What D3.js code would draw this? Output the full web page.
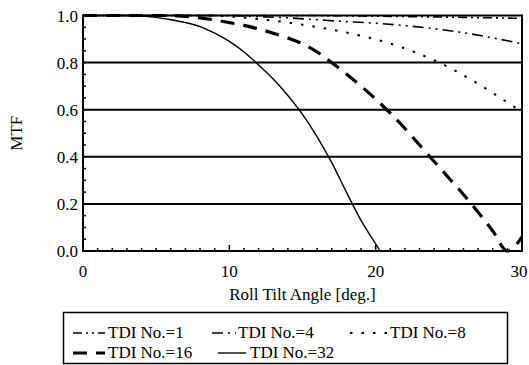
<!DOCTYPE html>
<html>
<head>
<meta charset="utf-8">
<script src="https://cdn.jsdelivr.net/npm/d3@7"></script>
<style>
  body { margin: 0; background: #fff; }
</style>
</head>
<body>
<svg width="529" height="365"></svg>
<script>
// roll tilt angle [deg.] and MTF for each TDI stage count
const angles1  = [0, 15, 20, 25, 30];
const mtf1     = [1, 1, 0.997, 0.993, 0.988];
const angles4  = [0, 10, 12, 14, 16, 18, 20, 22, 24, 26, 28, 30];
const mtf4     = [1, 1, 0.995, 0.99, 0.982, 0.974, 0.967, 0.957, 0.944, 0.927, 0.905, 0.88];
const angles8  = [0, 9, 10, 11, 12, 13, 14, 15, 16, 17, 18, 19, 20, 21, 22, 23, 24, 25, 26, 27, 28, 29, 30];
const mtf8     = [1, 1, 0.996, 0.991, 0.985, 0.978, 0.97, 0.961, 0.951, 0.94, 0.928, 0.914, 0.899, 0.881, 0.86, 0.836, 0.81, 0.78, 0.746, 0.71, 0.671, 0.631, 0.59];
const angles16 = [0, 6, 7, 8, 9, 10, 11, 12, 13, 14, 15, 16, 17, 18, 19, 20, 21, 22, 23, 24, 25, 26, 27, 28, 29, 30];
const mtf16    = [1, 1, 0.996, 0.99, 0.981, 0.97, 0.958, 0.943, 0.925, 0.905, 0.88, 0.845, 0.8, 0.752, 0.7, 0.645, 0.585, 0.52, 0.45, 0.38, 0.31, 0.24, 0.165, 0.085, 0.0, 0.06];
const angles32 = [0, 3, 4, 5, 6, 7, 8, 9, 10, 11, 12, 13, 14, 15, 16, 17, 18, 19, 20, 20.3];
const mtf32    = [1, 1, 0.998, 0.992, 0.982, 0.97, 0.953, 0.925, 0.89, 0.845, 0.79, 0.73, 0.66, 0.58, 0.485, 0.375, 0.25, 0.13, 0.03, 0];

const xTicks = [0, 10, 20, 30];
const yTicks = [0, 0.2, 0.4, 0.6, 0.8, 1.0];
const legendLabels = ["TDI No.=1", "TDI No.=4", "TDI No.=8", "TDI No.=16", "TDI No.=32"];

const series = [
  { name: legendLabels[0], xs: angles1,  ys: mtf1,  width: 1.6, dash: "9,4,2,4,2,4" },
  { name: legendLabels[1], xs: angles4,  ys: mtf4,  width: 1.6, dash: "11,5,2,5,2,5" },
  { name: legendLabels[2], xs: angles8,  ys: mtf8,  width: 2,   dash: "2.5,9" },
  { name: legendLabels[3], xs: angles16, ys: mtf16, width: 3.2, dash: "14,9" },
  { name: legendLabels[4], xs: angles32, ys: mtf32, width: 1.4, dash: null }
];

const FONT = "'Liberation Serif', 'Times New Roman', 'DejaVu Serif', serif";

const margin = { top: 15.5, left: 83, right: 7, bottom: 114 };
const width = 529 - margin.left - margin.right,
      height = 365 - margin.top - margin.bottom;

const svg = d3.select("svg");
const g = svg.append("g").attr("transform", `translate(${margin.left},${margin.top})`);

const x = d3.scaleLinear().domain([0, 30]).range([0, width]);
const y = d3.scaleLinear().domain([0, 1]).range([height, 0]);

// grid lines
g.selectAll(".grid").data([0.2, 0.4, 0.6, 0.8]).enter().append("line")
  .attr("x1", 0).attr("x2", width)
  .attr("y1", d => y(d)).attr("y2", d => y(d))
  .attr("stroke", "#000").attr("stroke-width", 2);

// minor ticks
g.selectAll(".xminor").data(d3.range(1, 30)).enter().append("line")
  .attr("x1", d => x(d)).attr("x2", d => x(d))
  .attr("y1", height).attr("y2", d => height - (d % 10 === 0 ? 6 : 3))
  .attr("stroke", "#000").attr("stroke-width", 1.5);
g.selectAll(".yminor").data(d3.range(1, 20).map(i => i * 0.05)).enter().append("line")
  .attr("x1", 0).attr("x2", 3)
  .attr("y1", d => y(d)).attr("y2", d => y(d))
  .attr("stroke", "#000").attr("stroke-width", 1.5);

// curves
const line = d3.line().x(d => x(d[0])).y(d => y(d[1])).curve(d3.curveMonotoneX);
series.forEach(s => {
  g.append("path")
    .datum(s.xs.map((v, i) => [v, s.ys[i]]))
    .attr("fill", "none")
    .attr("stroke", "#000")
    .attr("stroke-width", s.width)
    .attr("stroke-dasharray", s.dash)
    .attr("d", line);
});

// frame
g.append("rect").attr("width", width).attr("height", height)
  .attr("fill", "none").attr("stroke", "#000").attr("stroke-width", 2);

// tick labels (last one nudged so it stays inside the window)
g.selectAll(".xl").data(xTicks).enter().append("text")
  .attr("x", d => x(d)).attr("y", height + 26)
  .attr("dx", (d, i) => i === xTicks.length - 1 ? -3 : 0)
  .attr("text-anchor", "middle").attr("font-size", 17).attr("font-family", FONT)
  .text(d => d);
g.selectAll(".yl").data(yTicks).enter().append("text")
  .attr("x", -5).attr("y", d => y(d) + 6)
  .attr("text-anchor", "end").attr("font-size", 17).attr("font-family", FONT)
  .text(d => d.toFixed(1));

// axis titles
svg.append("text").attr("x", margin.left + width / 2).attr("y", 300)
  .attr("text-anchor", "middle").attr("font-size", 17).attr("font-family", FONT)
  .text("Roll Tilt Angle [deg.]");
svg.append("text")
  .attr("transform", `translate(22,${margin.top + height / 2}) rotate(-90)`)
  .attr("text-anchor", "middle").attr("font-size", 17).attr("font-family", FONT)
  .text("MTF");

// legend
const legend = svg.append("g");
legend.append("rect").attr("x", 63.5).attr("y", 312.5).attr("width", 444).attr("height", 51)
  .attr("fill", "none").attr("stroke", "#000").attr("stroke-width", 1.5);
const legendPos = [
  { lx: 73, tx: 108, ty: 338, len: 32 },
  { lx: 212, tx: 238, ty: 338, len: 24 },
  { lx: 350, tx: 390, ty: 338, len: 38 },
  { lx: 73, tx: 108, ty: 358, len: 32 },
  { lx: 218, tx: 250, ty: 358, len: 28 }
];
series.forEach((s, i) => {
  const p = legendPos[i];
  legend.append("line")
    .attr("x1", p.lx).attr("x2", p.lx + p.len)
    .attr("y1", p.ty - 5).attr("y2", p.ty - 5)
    .attr("stroke", "#000").attr("stroke-width", s.width)
    .attr("stroke-dasharray", s.dash);
  legend.append("text").attr("x", p.tx).attr("y", p.ty)
    .attr("font-size", 17).attr("font-family", FONT).text(s.name);
});
</script>
</body>
</html>
